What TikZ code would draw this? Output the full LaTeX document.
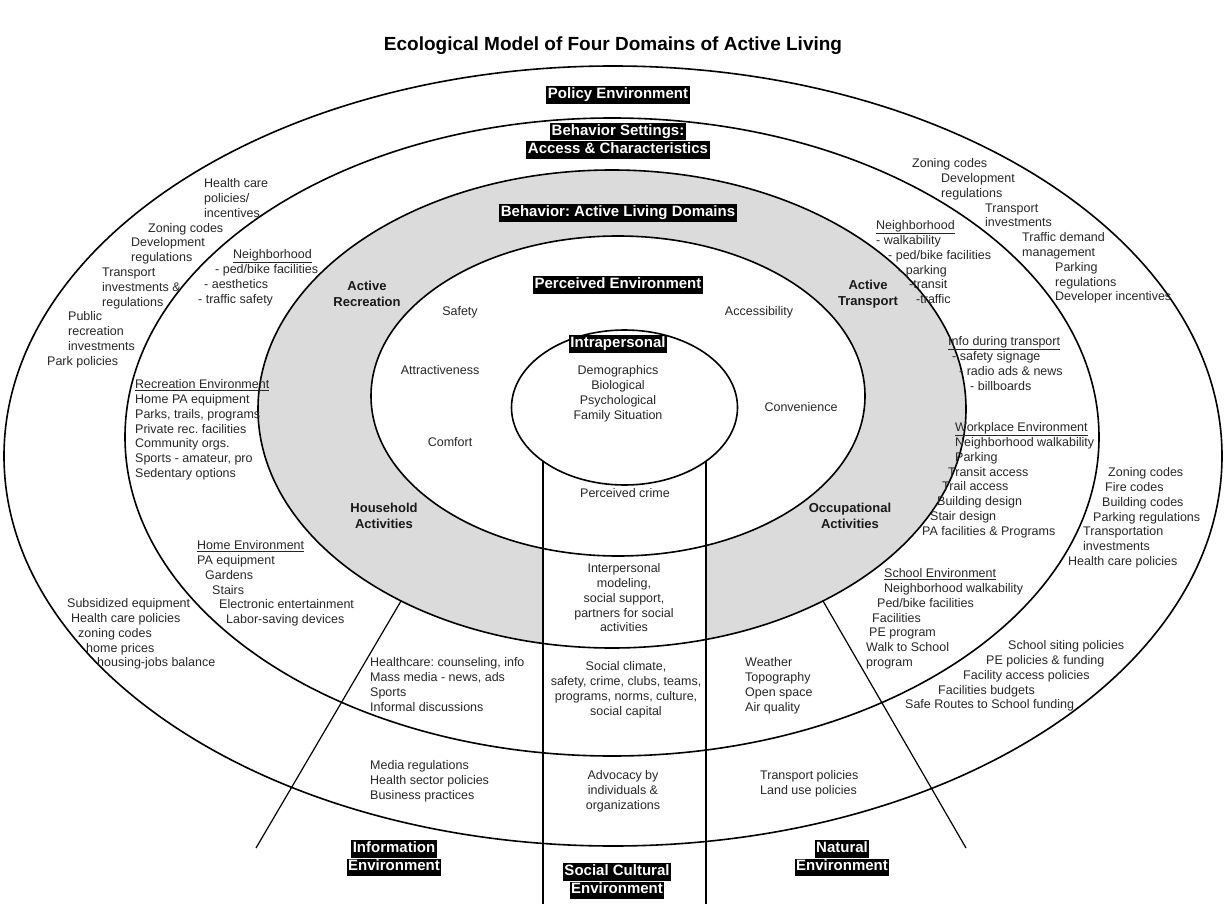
\documentclass[tikz,border=0pt]{standalone}
\usepackage{fontspec}
\setmainfont{Liberation Sans}
\usetikzlibrary{positioning}

\definecolor{ringgray}{gray}{0.86}
\setlength{\fboxsep}{1.5pt}
\frenchspacing
\newcommand{\blk}[1]{\colorbox{black}{\vphantom{Ag}#1}}

\tikzset{
  txt/.style={font=\fontsize{12.5}{14.8}\selectfont, text=black!85, inner sep=0pt, align=left, anchor=north west},
  ctxt/.style={txt, align=center, anchor=north},
  domainlabel/.style={font=\bfseries\fontsize{13}{16}\selectfont, text=black!90, align=center, inner sep=0pt},
  banner/.style={font=\bfseries\fontsize{15}{17}\selectfont, text=white, align=center, inner sep=0pt},
  ring/.style={line width=1.6pt},
  divider/.style={line width=1.2pt},
}

\begin{document}
\begin{tikzpicture}[x=1pt, y=-1pt]
\useasboundingbox (0,0) rectangle (1226,904);

% shaded behaviour ring, open in the social strip
\fill[ringgray] (612,409) ellipse [x radius=354pt, y radius=239pt];
\fill[white] (618,396) ellipse [x radius=247pt, y radius=160pt];
\begin{scope}
  \clip (612,409) ellipse [x radius=354pt, y radius=239pt];
  \fill[white] (543,380) rectangle (706,700);
\end{scope}

% rings
\draw[ring] (613,456) ellipse [x radius=609pt, y radius=390pt];
\draw[ring] (612,437) ellipse [x radius=487pt, y radius=319pt];
\draw[ring] (612,409) ellipse [x radius=354pt, y radius=239pt];
\draw[ring] (618,396) ellipse [x radius=247pt, y radius=160pt];
\draw[ring, fill=white] (624.5,407.5) ellipse [x radius=113pt, y radius=77.5pt];

% dividers
\coordinate (socL) at (543,461);
\coordinate (socLend) at (543,904);
\coordinate (socR) at (706,461);
\coordinate (socRend) at (706,904);
\coordinate (infoTop) at (401,601);
\coordinate (infoEnd) at (256,848);
\coordinate (natTop) at (823,601);
\coordinate (natEnd) at (966,848);

\draw[divider] (socL) -- (socLend);
\draw[divider] (socR) -- (socRend);
\draw[divider] (infoTop) -- (infoEnd);
\draw[divider] (natTop) -- (natEnd);

% title
\node[font=\bfseries\fontsize{19}{22}\selectfont] (title) at (613,46) {Ecological Model of Four Domains of Active Living};

% banners
\node[banner] (policy) at (618,95) {\blk{Policy Environment}};
\node[banner] (settings) at (618,141) {\blk{Behavior Settings:}\\\blk{Access \& Characteristics}};
\node[banner] (domains) at (618,213) {\blk{Behavior: Active Living Domains}};
\node[banner] (perceived) at (618,285) {\blk{Perceived Environment}};
\node[banner] (intra) at (618,344) {\blk{Intrapersonal}};
\node[banner] (infoenv) at (394,858) {\blk{Information}\\\blk{Environment}};
\node[banner] (socenv) at (617,881) {\blk{Social Cultural}\\\blk{Environment}};
\node[banner] (natenv) at (842,858) {\blk{Natural}\\\blk{Environment}};

% domains
\node[domainlabel] (actrec) at (367,294) {Active\\Recreation};
\node[domainlabel] (acttra) at (868,294) {Active\\Transport};
\node[domainlabel] (house) at (384,516) {Household\\Activities};
\node[domainlabel] (occup) at (850,516) {Occupational\\Activities};

% perceived environment
\node[ctxt, anchor=center] (safety) at (460,312) {Safety};
\node[ctxt, anchor=center] (access) at (759,312) {Accessibility};
\node[ctxt, anchor=center] (attract) at (440,370) {Attractiveness};
\node[ctxt, anchor=center] (conven) at (801,407) {Convenience};
\node[ctxt, anchor=center] (comfort) at (450,442) {Comfort};
\node[ctxt] (demog) at (618,365.4) {Demographics\\Biological\\Psychological\\Family Situation};
\node[ctxt, anchor=center] (crime) at (625,493) {Perceived crime};
\node[ctxt] (interp) at (624,563.4) {Interpersonal\\modeling,\\social support,\\partners for social\\activities};
\node[ctxt] (climate) at (626,661.4) {Social climate,\\safety, crime, clubs, teams,\\programs, norms, culture,\\social capital};
\node[ctxt] (advocacy) at (623,770.4) {Advocacy by\\individuals \&\\organizations};

% left side
\node[txt] (polL) at (47,178.4) {\hspace*{157pt}Health care\\\hspace*{157pt}policies/\\\hspace*{157pt}incentives\\
  \hspace*{101pt}Zoning codes\\\hspace*{84pt}Development\\\hspace*{84pt}regulations\\
  \hspace*{55pt}Transport\\\hspace*{55pt}investments \&\\\hspace*{55pt}regulations\\
  \hspace*{21pt}Public\\\hspace*{21pt}recreation\\\hspace*{21pt}investments\\Park policies};
\node[txt] (nbhdL) at (198,249.4) {\hspace*{35pt}\underline{Neighborhood}\\\hspace*{17pt}- ped/bike facilities\\\hspace*{6pt}- aesthetics\\- traffic safety};
\node[txt] (recenv) at (135,379.4) {\underline{Recreation Environment}\\Home PA equipment\\Parks, trails, programs\\Private rec. facilities\\Community orgs.\\Sports - amateur, pro\\Sedentary options};
\node[txt] (homeenv) at (197,540.4) {\underline{Home Environment}\\PA equipment\\\hspace*{8pt}Gardens\\\hspace*{15pt}Stairs\\\hspace*{22pt}Electronic entertainment\\\hspace*{29pt}Labor-saving devices};
\node[txt] (subsid) at (67,598.4) {Subsidized equipment\\\hspace*{4pt}Health care policies\\\hspace*{11pt}zoning codes\\\hspace*{19pt}home prices\\\hspace*{30pt}housing-jobs balance};

% right side
\node[txt] (polR) at (912,158.4) {Zoning codes\\\hspace*{29pt}Development\\\hspace*{29pt}regulations\\
  \hspace*{73pt}Transport\\\hspace*{73pt}investments\\\hspace*{110pt}Traffic demand\\\hspace*{110pt}management\\
  \hspace*{143pt}Parking\\\hspace*{143pt}regulations\\\hspace*{143pt}Developer incentives};
\node[txt] (nbhdR) at (876,220.4) {\underline{Neighborhood}\\- walkability\\\hspace*{12pt}- ped/bike facilities\\\hspace*{22pt}- parking\\\hspace*{33pt}-transit\\\hspace*{40pt}-traffic};
\node[txt] (infotr) at (948,336.4) {\underline{Info during transport}\\\hspace*{4pt}- safety signage\\\hspace*{11pt}- radio ads \& news\\\hspace*{22pt}- billboards};
\node[txt] (work) at (922,422.4) {\hspace*{33pt}\underline{Workplace Environment}\\\hspace*{33pt}Neighborhood walkability\\\hspace*{33pt}Parking\\
  \hspace*{26pt}Transit access\\\hspace*{20pt}Trail access\\\hspace*{15pt}Building design\\\hspace*{8pt}Stair design\\PA facilities \& Programs};
\node[txt] (polR2) at (1068,467.4) {\hspace*{40pt}Zoning codes\\\hspace*{37pt}Fire codes\\\hspace*{34pt}Building codes\\\hspace*{25pt}Parking regulations\\
  \hspace*{15pt}Transportation\\\hspace*{15pt}investments\\Health care policies};
\node[txt] (school) at (866,568.4) {\hspace*{18pt}\underline{School Environment}\\\hspace*{18pt}Neighborhood walkability\\\hspace*{11pt}Ped/bike facilities\\\hspace*{6pt}Facilities\\\hspace*{3pt}PE program\\Walk to School\\program};
\node[txt] (schoolpol) at (905,640.4) {\hspace*{103pt}School siting policies\\\hspace*{81pt}PE policies \& funding\\\hspace*{58pt}Facility access policies\\\hspace*{33pt}Facilities budgets\\Safe Routes to School funding};

% bottom sectors
\node[txt] (infomed) at (370,657.4) {Healthcare: counseling, info\\Mass media - news, ads\\Sports\\Informal discussions};
\node[txt] (weather) at (745,657.4) {Weather\\Topography\\Open space\\Air quality};
\node[txt] (mediapol) at (370,760.4) {Media regulations\\Health sector policies\\Business practices};
\node[txt] (landpol) at (760,770.4) {Transport policies\\Land use policies};

\end{tikzpicture}
\end{document}
